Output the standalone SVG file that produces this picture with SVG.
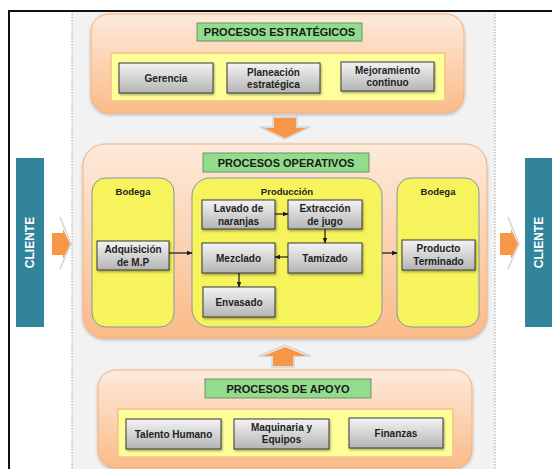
<svg xmlns="http://www.w3.org/2000/svg" width="552" height="469" viewBox="0 0 552 469">
<defs>
<linearGradient id="gBig" x1="0" y1="0" x2="0" y2="1">
<stop offset="0" stop-color="#fdeadb"/>
<stop offset="1" stop-color="#fabb88"/>
</linearGradient>
<linearGradient id="gBox" x1="0" y1="0" x2="0" y2="1">
<stop offset="0" stop-color="#f4f4f4"/>
<stop offset="1" stop-color="#b4b4b4"/>
</linearGradient>
<filter id="sh" x="-10%" y="-10%" width="130%" height="140%">
<feDropShadow dx="1" dy="1.5" stdDeviation="1" flood-color="#000" flood-opacity="0.35"/>
</filter>
<filter id="shB" x="-5%" y="-5%" width="110%" height="115%">
<feDropShadow dx="0" dy="1.5" stdDeviation="1.5" flood-color="#000" flood-opacity="0.25"/>
</filter>
<marker id="ah" viewBox="0 0 10 10" refX="9" refY="5" markerWidth="6" markerHeight="6" orient="auto" markerUnits="userSpaceOnUse">
<path d="M0,1 L10,5 L0,9 z" fill="#1a1a1a"/>
</marker>
</defs>
<style>
.big{fill:url(#gBig);stroke:#f7b07a;stroke-width:1;filter:url(#shB)}
.ylo{fill:#ffff99;stroke:#f8bf8a;stroke-width:1.5}
.yop{fill:#f6f35c;stroke:#8394aa;stroke-width:1}
.grn{fill:#92dd8c;stroke:#6f8f6f;stroke-width:1}
.box{fill:url(#gBox);stroke:#3a3a3a;stroke-width:1;filter:url(#sh)}
.cli{fill:#31849b}
.t{font-family:"Liberation Sans",Arial,sans-serif;font-weight:bold;font-size:10px;fill:#1e1e1e;text-anchor:middle}
.ti{font-family:"Liberation Sans",Arial,sans-serif;font-weight:bold;font-size:11px;fill:#1a1a1a;text-anchor:middle}
.lb{font-family:"Liberation Sans",Arial,sans-serif;font-weight:bold;font-size:9.5px;fill:#222;text-anchor:middle}
.ct{font-family:"Liberation Sans",Arial,sans-serif;font-weight:bold;font-size:12px;fill:#ffffff;text-anchor:middle}
.arr{fill:#f79646}
.glow{fill:none;stroke:#d4d4d4;stroke-width:1.5}
.con{stroke:#1a1a1a;stroke-width:1.2;fill:none;marker-end:url(#ah)}
</style>
<rect x="0" y="0" width="552" height="469" fill="#ffffff"/>
<rect x="72" y="11" width="423" height="458" fill="#f2f2f2"/>
<line x1="72" y1="11" x2="72" y2="469" stroke="#8c8c8c" stroke-width="0.8" stroke-dasharray="1.5,1.5"/>
<line x1="495" y1="11" x2="495" y2="469" stroke="#8c8c8c" stroke-width="0.8" stroke-dasharray="1.5,1.5"/>
<path d="M9,469 L9,11 L552,11" fill="none" stroke="#111" stroke-width="2"/>

<g id="estrategicos">
<rect class="big" x="91" y="14" width="373" height="99" rx="18"/>
<rect class="grn" x="197" y="23" width="165" height="18"/>
<text class="ti" x="279.5" y="36">PROCESOS ESTRATÉGICOS</text>
<rect class="ylo" x="111" y="53" width="334" height="48"/>
</g>
<g id="gerencia">
<rect class="box" x="119" y="63" width="94" height="30"/>
<text class="t" x="166" y="81.5">Gerencia</text>
</g>
<g id="planeacion">
<rect class="box" x="227" y="63" width="93" height="30"/>
<text class="t" x="273.5" y="75.5">Planeación</text>
<text class="t" x="273.5" y="87.5">estratégica</text>
</g>
<g id="mejoramiento">
<rect class="box" x="341" y="62" width="93" height="29"/>
<text class="t" x="387.5" y="74">Mejoramiento</text>
<text class="t" x="387.5" y="86">continuo</text>
</g>

<g id="flecha-abajo">
<polygon class="glow" points="273,117 297,117 297,127 310,127 285,139 260,127 273,127"/>
<polygon class="arr" points="274,118 296,118 296,128 306,128 285,138 264,128 274,128"/>
</g>

<g id="operativos">
<rect class="big" x="83" y="144" width="404" height="194" rx="22"/>
<rect class="grn" x="203" y="153" width="166" height="19"/>
<text class="ti" x="286" y="167">PROCESOS OPERATIVOS</text>
</g>
<g id="bodega-mp">
<rect class="yop" x="92" y="178" width="82" height="149" rx="14"/>
<text class="lb" x="133" y="194.5">Bodega</text>
</g>
<g id="produccion">
<rect class="yop" x="192" y="178" width="190" height="149" rx="18"/>
<text class="lb" x="287" y="194.5">Producción</text>
</g>
<g id="bodega-pt">
<rect class="yop" x="397" y="178" width="82" height="149" rx="14"/>
<text class="lb" x="438" y="194.5">Bodega</text>
</g>
<g id="adquisicion">
<rect class="box" x="97" y="241" width="72" height="29"/>
<text class="t" x="133" y="252.5">Adquisición</text>
<text class="t" x="133" y="265.5">de M.P</text>
</g>
<g id="lavado">
<rect class="box" x="202" y="200" width="73" height="29"/>
<text class="t" x="238.5" y="211.5">Lavado de</text>
<text class="t" x="238.5" y="224.5">naranjas</text>
</g>
<g id="extraccion">
<rect class="box" x="288" y="200" width="74" height="29"/>
<text class="t" x="325" y="211.5">Extracción</text>
<text class="t" x="325" y="224.5">de jugo</text>
</g>
<g id="mezclado">
<rect class="box" x="202" y="243" width="73" height="30"/>
<text class="t" x="238.5" y="261.5">Mezclado</text>
</g>
<g id="tamizado">
<rect class="box" x="288" y="243" width="74" height="30"/>
<text class="t" x="325" y="261.5">Tamizado</text>
</g>
<g id="envasado">
<rect class="box" x="203" y="287" width="72" height="30"/>
<text class="t" x="239" y="305.5">Envasado</text>
</g>
<g id="producto">
<rect class="box" x="402" y="240" width="73" height="30"/>
<text class="t" x="438.5" y="251.5">Producto</text>
<text class="t" x="438.5" y="264.5">Terminado</text>
</g>

<g id="conectores">
<line class="con" x1="169" y1="253" x2="192" y2="253"/>
<line class="con" x1="275" y1="214" x2="288" y2="214"/>
<line class="con" x1="325" y1="229" x2="325" y2="243"/>
<line class="con" x1="288" y1="257" x2="275" y2="257"/>
<line class="con" x1="239" y1="273" x2="239" y2="287"/>
<line class="con" x1="382" y1="253" x2="397" y2="253"/>
</g>

<g id="flecha-arriba">
<polygon class="glow" points="272,367 294,367 294,356 311,356 285,345 259,356 272,356"/>
<polygon class="arr" points="273,366 293,366 293,356 307,356 285,347 263,356 273,356"/>
</g>

<g id="apoyo">
<rect class="big" x="98" y="370" width="374" height="98" rx="18"/>
<rect class="grn" x="205" y="379" width="166" height="19"/>
<text class="ti" x="288" y="392.5">PROCESOS DE APOYO</text>
<rect class="ylo" x="118" y="409" width="335" height="48"/>
</g>
<g id="talento">
<rect class="box" x="126" y="419" width="95" height="30"/>
<text class="t" x="173.5" y="437.5">Talento Humano</text>
</g>
<g id="maquinaria">
<rect class="box" x="234" y="419" width="95" height="30"/>
<text class="t" x="281.5" y="430.5">Maquinaria y</text>
<text class="t" x="281.5" y="442.5">Equipos</text>
</g>
<g id="finanzas">
<rect class="box" x="349" y="418" width="94" height="30"/>
<text class="t" x="396" y="436.5">Finanzas</text>
</g>

<g id="cliente-izq">
<rect class="cli" x="16" y="158" width="28" height="169"/>
<text class="ct" transform="translate(34.3,242.5) rotate(-90)" x="0" y="0">CLIENTE</text>
</g>
<g id="flecha-izq">
<polyline class="glow" points="60,217 71,244 60,269"/>
<polygon class="arr" points="52,233 63,233 63,229 70,244 63,259 63,255 52,255"/>
</g>
<g id="flecha-der">
<polyline class="glow" points="508,217 519,244 508,269"/>
<polygon class="arr" points="500,233 511,233 511,229 518,244 511,259 511,255 500,255"/>
</g>
<g id="cliente-der">
<rect class="cli" x="525" y="158" width="28" height="169"/>
<text class="ct" transform="translate(543.3,242.5) rotate(-90)" x="0" y="0">CLIENTE</text>
</g>
</svg>
